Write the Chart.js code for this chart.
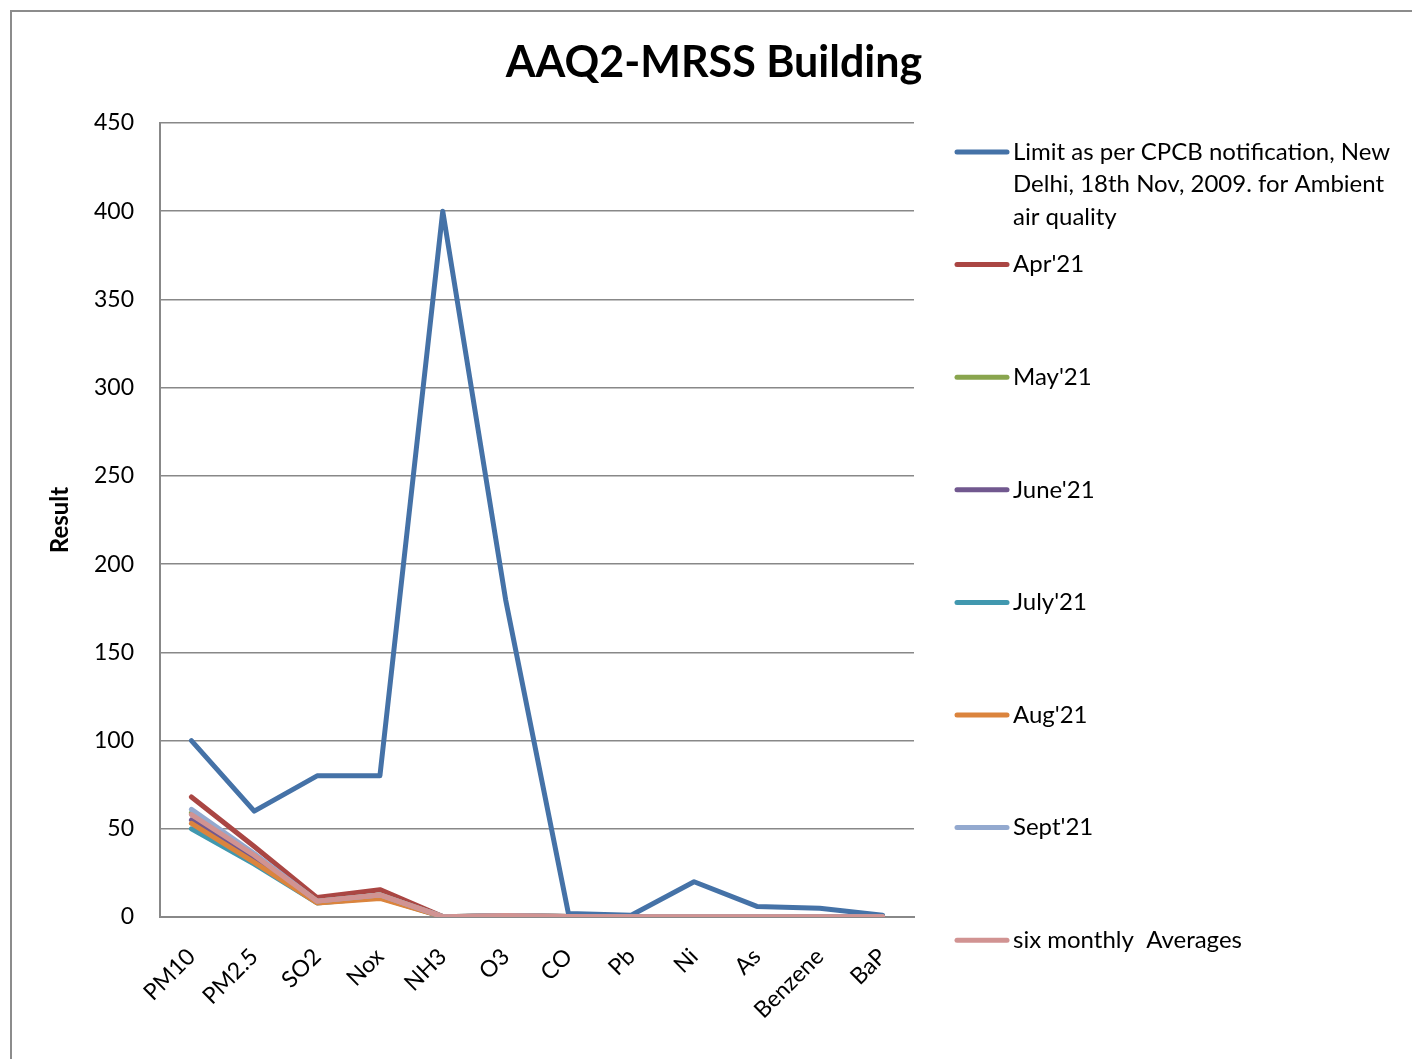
<!DOCTYPE html>
<html>
<head>
<meta charset="utf-8">
<script src="https://cdn.jsdelivr.net/npm/chart.js@4.4.0/dist/chart.umd.min.js"></script>
<style>
  body { margin: 0; background: #fff; }
  canvas { display: block; }
</style>
</head>
<body>
<canvas id="grafico" width="1412" height="1059"></canvas>
<script>
// dados
const categorias = ['PM10', 'PM2.5', 'SO2', 'Nox', 'NH3', 'O3', 'CO', 'Pb', 'Ni', 'As', 'Benzene', 'BaP'];
const limite   = [100, 60, 80, 80, 400, 180, 2, 1, 20, 6, 5, 1];
const abr21    = [68, 40, 11, 15.5, 0.2, 0.6, 0.3, 0.1, 0.1, 0.1, 0.1, 0.1];
const mai21    = [59, 35, 9, 12.5, 0.2, 0.8, 0.3, 0.1, 0.1, 0.1, 0.1, 0.1];
const jun21    = [55, 33, 8.5, 11.5, 0.2, 0.7, 0.3, 0.1, 0.1, 0.1, 0.1, 0.1];
const jul21    = [50, 30, 8, 11, 0.2, 0.6, 0.3, 0.1, 0.1, 0.1, 0.1, 0.1];
const ago21    = [53, 31, 8, 10.5, 0.2, 0.6, 0.3, 0.1, 0.1, 0.1, 0.1, 0.1];
const set21    = [61, 36, 9, 12.5, 0.2, 0.8, 0.3, 0.1, 0.1, 0.1, 0.1, 0.1];
const medias   = [58, 35, 9, 12.5, 0.2, 0.8, 0.3, 0.1, 0.1, 0.1, 0.1, 0.1];

const nomes = ["Limit as per CPCB notification, New Delhi, 18th Nov, 2009. for Ambient air quality",
               "Apr'21", "May'21", "June'21", "July'21", "Aug'21", "Sept'21", "six monthly  Averages"];
const series = [limite, abr21, mai21, jun21, jul21, ago21, set21, medias];
const cores = ['#4572A7', '#AA4643', '#89A54E', '#71588F', '#4198AF', '#DB843D', '#93A9CF', '#D19392'];

const fonte = 'Lato, "Open Sans", sans-serif';

// borda externa, titulo e legenda desenhados a mao
const extras = {
    id: 'extras',
    beforeDraw(chart) {
        const c = chart.ctx;
        c.save();
        c.strokeStyle = '#8c8c8c';
        c.lineWidth = 2;
        c.strokeRect(11, 11, 1420, 1070);
        c.restore();
    },
    afterDraw(chart) {
        const c = chart.ctx;
        c.save();
        c.fillStyle = '#000';
        c.font = 'bold 43px ' + fonte;
        c.textAlign = 'center';
        c.textBaseline = 'middle';
        c.fillText('AAQ2-MRSS Building', 714, 63);

        c.font = '24px ' + fonte;
        c.textAlign = 'left';
        for (let i = 0; i < nomes.length; i++) {
            const y = 152 + i * 112.6;
            c.strokeStyle = cores[i];
            c.lineWidth = 5;
            c.lineCap = 'round';
            c.beginPath();
            c.moveTo(957, y);
            c.lineTo(1007, y);
            c.stroke();
            const linhas = quebrar(c, nomes[i], 388);
            linhas.forEach((l, k) => c.fillText(l, 1013, y + k * 32.5));
        }
        c.restore();
    }
};

function quebrar(c, texto, largura) {
    const palavras = texto.split(' ');
    const linhas = [];
    let atual = '';
    for (const p of palavras) {
        const teste = atual ? atual + ' ' + p : p;
        if (atual && c.measureText(teste).width > largura && p !== '') {
            linhas.push(atual);
            atual = p;
        } else {
            atual = teste;
        }
    }
    linhas.push(atual);
    return linhas;
}

const ctx = document.getElementById('grafico').getContext('2d');
new Chart(ctx, {
    type: 'line',
    data: {
        labels: categorias,
        datasets: series.map((s, i) => ({
            label: nomes[i],
            data: s,
            borderColor: cores[i],
            backgroundColor: cores[i],
            borderWidth: 5,
            pointRadius: 0,
            tension: 0,
            borderJoinStyle: 'round',
            borderCapStyle: 'round',
            order: series.length - i
        }))
    },
    options: {
        responsive: false,
        animation: false,
        layout: { padding: { top: 123, right: 498, left: 0, bottom: 0 } },
        plugins: {
            legend: { display: false },
            title: { display: false },
            tooltip: { enabled: false }
        },
        scales: {
            x: {
                offset: true,
                grid: { display: false, drawTicks: false },
                border: { color: '#888', width: 2 },
                ticks: {
                    autoSkip: false,
                    minRotation: 45,
                    maxRotation: 45,
                    padding: 26,
                    color: '#000',
                    font: { family: fonte, size: 23 }
                },
                afterFit: s => { s.height = 142; }
            },
            y: {
                min: 0,
                max: 450,
                grid: { color: '#888', lineWidth: 1.5, drawTicks: false },
                border: { color: '#888', width: 2 },
                ticks: {
                    stepSize: 50,
                    padding: 26,
                    color: '#000',
                    font: { family: fonte, size: 23 }
                },
                title: {
                    display: true,
                    text: 'Result',
                    color: '#000',
                    padding: { top: 46, bottom: 0 },
                    font: { family: fonte, size: 24, weight: 'bold' }
                },
                afterFit: s => { s.width = 160; }
            }
        }
    },
    plugins: [extras]
});
</script>
</body>
</html>
